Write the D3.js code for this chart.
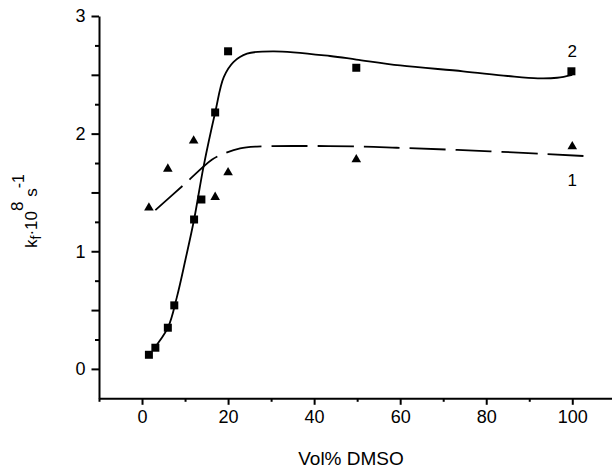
<!DOCTYPE html>
<html>
<head>
<meta charset="utf-8">
<script src="https://cdn.jsdelivr.net/npm/d3@7"></script>
<style>
  body { margin: 0; background: #fff; }
  svg { display: block; font-family: "Liberation Sans", Arial, sans-serif; }
</style>
</head>
<body>
<div id="chart"></div>
<script>
// size of the picture
var chart_width = 612;
var chart_height = 468;

// measured points, series 2 (squares) and series 1 (triangles)
var sq_x = [1.6, 3.1, 6.0, 7.5, 12.1, 13.8, 17.0, 20.0, 49.8, 99.8];
var sq_y = [0.12, 0.18, 0.35, 0.54, 1.27, 1.44, 2.18, 2.70, 2.56, 2.53];
var tri_x = [1.6, 6.0, 12.0, 17.0, 20.0, 49.8, 100.0];
var tri_y = [1.37, 1.70, 1.94, 1.46, 1.67, 1.78, 1.89];

// fitted curves
var fit2_x = [2.5, 6.0, 8.1, 10.1, 12.1, 14.3, 17.0, 19.0, 21.3, 24.4, 30.6, 43.7, 49.8, 60.0, 74.6, 85.0, 92.0, 96.5, 100.0];
var fit2_y = [0.16, 0.35, 0.61, 0.93, 1.27, 1.72, 2.18, 2.48, 2.61, 2.68, 2.70, 2.66, 2.63, 2.58, 2.53, 2.49, 2.47, 2.475, 2.50];
var fit1_x = [3.1, 9.7, 16.3, 19.0, 22.8, 26.7, 36.8, 50.7, 59.2, 80.9, 102.6];
var fit1_y = [1.35, 1.565, 1.78, 1.83, 1.875, 1.89, 1.895, 1.89, 1.88, 1.85, 1.81];

// ticks
var x_major = [0, 20, 40, 60, 80, 100];
var x_minor = [-10, 10, 30, 50, 70, 90, 110];
var y_labels = [0, 1, 2, 3];
var y_major = [0, 0.5, 1, 1.5, 2, 2.5, 3];
var y_minor = [0.25, 0.75, 1.25, 1.75, 2.25, 2.75];

var x = d3.scaleLinear().domain([-10, 110]).range([99, 615.3]);
var y = d3.scaleLinear().domain([-0.25, 3]).range([398.3, 16]);

var svg = d3.select('#chart')
            .append('svg')
            .attr('width', chart_width)
            .attr('height', chart_height);

// y axis
var yAxis = svg.append('g').attr('transform', 'translate(' + x(-10) + ',0)');
yAxis.call(d3.axisLeft(y).tickValues(y_minor).tickSize(4).tickSizeOuter(0).tickFormat(''));
yAxis.append('g').call(d3.axisLeft(y).tickValues(y_major).tickSize(7.5).tickSizeOuter(0)
     .tickFormat(function(d){ return y_labels.indexOf(d) >= 0 ? d : ''; }).tickPadding(6));

// x axis
var xAxis = svg.append('g').attr('transform', 'translate(0,' + y(-0.25) + ')');
xAxis.call(d3.axisBottom(x).tickValues(x_minor).tickSize(3.5).tickSizeOuter(0).tickFormat(''));
xAxis.append('g').call(d3.axisBottom(x).tickValues(x_major).tickSize(6.5).tickPadding(5).tickSizeOuter(0));

svg.selectAll('.domain').attr('stroke', '#000').attr('stroke-width', 2);
svg.selectAll('.tick line').attr('stroke', '#000').attr('stroke-width', 2);
svg.selectAll('.tick text').attr('font-size', 18).attr('fill', '#000')
   .attr('font-family', '"Liberation Sans", Arial, sans-serif');
// the inner major groups repeat the domain line, keep just one
yAxis.select('g .domain').remove();
xAxis.select('g .domain').remove();

// fitted curves
var line = d3.line()
             .x(function(d){ return x(d[0]); })
             .y(function(d){ return y(d[1]); })
             .curve(d3.curveCatmullRom.alpha(0.5));

svg.append('path')
   .attr('d', line(d3.zip(fit2_x, fit2_y)))
   .attr('fill', 'none')
   .attr('stroke', '#000')
   .attr('stroke-width', 1.8);

svg.append('path')
   .attr('d', line(d3.zip(fit1_x, fit1_y)))
   .attr('fill', 'none')
   .attr('stroke', '#000')
   .attr('stroke-width', 1.8)
   .attr('stroke-dasharray', '36,10');

// points
svg.selectAll('path.sq')
   .data(d3.zip(sq_x, sq_y))
   .enter()
   .append('path')
   .attr('class', 'sq')
   .attr('d', d3.symbol().type(d3.symbolSquare).size(64))
   .attr('transform', function(d){ return 'translate(' + x(d[0]) + ',' + y(d[1]) + ')'; })
   .attr('fill', '#000');

svg.selectAll('path.tri')
   .data(d3.zip(tri_x, tri_y))
   .enter()
   .append('path')
   .attr('class', 'tri')
   .attr('d', d3.symbol().type(d3.symbolTriangle).size(40))
   .attr('transform', function(d){ return 'translate(' + x(d[0]) + ',' + y(d[1]) + ')'; })
   .attr('fill', '#000');

// curve numbers
svg.append('text').attr('x', x(100)).attr('y', 57).attr('text-anchor', 'middle')
   .attr('font-size', 17).text('2');
svg.append('text').attr('x', x(100)).attr('y', 186).attr('text-anchor', 'middle')
   .attr('font-size', 17).text('1');

// axis titles
svg.append('text')
   .attr('x', 351).attr('y', 465)
   .attr('text-anchor', 'middle')
   .attr('font-size', 19)
   .text('Vol% DMSO');

var yt = svg.append('text')
   .attr('transform', 'translate(36.7,248) rotate(-90)')
   .attr('font-size', 17);
yt.append('tspan').text('k');
yt.append('tspan').attr('dy', 4).attr('font-size', 14).text('f');
yt.append('tspan').attr('dy', -4).text('\u00b710');
yt.append('tspan').attr('dy', -14).text('8');
yt.append('tspan').attr('dy', 14).text(' s');
yt.append('tspan').attr('dy', -13).attr('font-size', 16).text('-1');
</script>
</body>
</html>
